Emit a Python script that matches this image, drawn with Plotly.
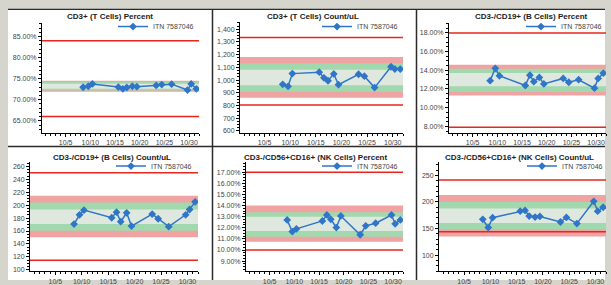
import plotly.graph_objects as go

W, H = 611, 285

dates = ["2013-10-08 13:00", "2013-10-09 14:00", "2013-10-10 10:00", "2013-10-15 16:00",
         "2013-10-16 14:00", "2013-10-17 09:00", "2013-10-18 12:00", "2013-10-19 10:00",
         "2013-10-23 08:00", "2013-10-24 11:00", "2013-10-26 11:00", "2013-10-29 16:00",
         "2013-10-30 10:00", "2013-10-31 11:00"]

titles = ["CD3+ (T Cells) Percent", "CD3+ (T Cells) Count/uL", "CD3-/CD19+ (B Cells) Percent",
          "CD3-/CD19+ (B Cells) Count/uL", "CD3-/CD56+CD16+ (NK Cells) Percent",
          "CD3-/CD56+CD16+ (NK Cells) Count/uL"]
series_name = "ITN 7587046"

t_pct = [72.97, 73.2, 73.75, 73.0, 72.6, 72.9, 73.2, 73.1, 73.4, 73.6, 73.7, 72.3, 73.75, 72.6]
t_cnt = [967, 951, 1051, 1062, 1018, 995, 1049, 964, 1046, 1031, 941, 1105, 1087, 1087]
b_pct = [12.89, 14.21, 13.41, 12.37, 13.48, 12.78, 13.24, 12.54, 13.13, 12.72, 12.99, 12.09, 13.13, 13.69]
b_cnt = [170.8, 185.1, 192.3, 180.5, 189.2, 174.4, 188.2, 167.7, 186.2, 179.0, 166.7, 185.1, 193.3, 205.1]
nk_pct = [12.7, 11.66, 11.9, 12.61, 13.15, 12.76, 12.02, 13.06, 11.37, 12.17, 12.41, 13.15, 12.35, 12.7]
nk_cnt = [167.3, 151.9, 170.4, 182.7, 184.0, 173.5, 171.6, 172.8, 162.3, 171.0, 159.3, 201.2, 182.7, 190.1]

# limits: [red low, red high], pink band, green band, centre band
red_lines = [[66.0, 84.0], [805, 1335], [7.9, 18.0], [115, 250], [10.0, 17.0], [143.8, 241.4]]
pink_band = [[71.9, 74.5], [862, 1182], [11.3, 14.6], [150.5, 214.6], [10.75, 14.0], [135, 213]]
green_band = [[72.2, 74.2], [908, 1133], [11.67, 14.17], [160.5, 204], [11.2, 13.4], [148, 200]]
centre_band = [[72.6, 73.8], [959, 1082], [12.3, 13.7], [170.8, 193.3], [11.7, 13.0], [160.5, 187.6]]

series = [t_pct, t_cnt, b_pct, b_cnt, nk_pct, nk_cnt]
y_ranges = [[62.2, 88.3], [587, 1460], [7.33, 19.1], [98, 266.5], [8.1, 17.9], [69.8, 275]]
y_dticks = [5, 100, 2, 20, 1, 50]
y_minor = [1, 25, 0.5, 5, 0.25, 10]
y_fmt = [".2f", ",", ".2f", "d", ".2f", "d"]
y_suffix = ["%", "", "%", "", "%", ""]
x_range = ["2013-09-30 05:00", "2013-11-01 00:00"]

# plot areas in pixels: x0, x1, ytop, ybottom
areas = [(42, 199, 23, 135), (240, 403, 22, 135), (449, 606, 23, 135),
         (30, 198, 165, 276), (246, 403, 165, 276), (439, 606, 165, 276)]
title_pos = [(110, 17), (313, 17), (531, 17), (112, 160), (315, 160), (519, 160)]
legend_pos = [(199, 27), (403, 27), (607, 27), (197, 169), (403, 169), (608, 169)]


def px(x):
    return x / W


def py(y):
    return 1 - y / H


fig = go.Figure()
shapes = []
annotations = []
layout = {}

# panel backgrounds and separators
shapes.append(dict(type="rect", xref="paper", yref="paper", x0=px(8), x1=px(605), y0=py(285), y1=py(9.5),
                   fillcolor="white", line=dict(width=0), layer="below"))
for xx in [212.5, 416.5]:
    shapes.append(dict(type="line", xref="paper", yref="paper", x0=px(xx), x1=px(xx), y0=0, y1=py(9.5),
                       line=dict(color="#2b2b2b", width=1.5), layer="below"))
shapes.append(dict(type="line", xref="paper", yref="paper", x0=px(8), x1=px(605), y0=py(149), y1=py(149),
                   line=dict(color="#2b2b2b", width=1.5), layer="below"))
shapes.append(dict(type="line", xref="paper", yref="paper", x0=px(8), x1=px(605), y0=py(9.5), y1=py(9.5),
                   line=dict(color="#2b2b2b", width=1.2), layer="below"))

for i in range(6):
    n = i + 1
    xa = "xaxis" if n == 1 else f"xaxis{n}"
    ya = "yaxis" if n == 1 else f"yaxis{n}"
    xr = "x" if n == 1 else f"x{n}"
    yr = "y" if n == 1 else f"y{n}"
    lg = "legend" if n == 1 else f"legend{n}"
    x0, x1, yt, yb = areas[i]
    layout[xa] = dict(domain=[px(x0), px(x1)], anchor=yr, type="date", range=x_range,
                      tick0="2013-10-05", dtick=5 * 86400000, tickformat="%-m/%-d",
                      showline=True, linecolor="black", linewidth=1, showgrid=False, zeroline=False,
                      ticks="outside", ticklen=3, tickcolor="black", tickwidth=1,
                      tickfont=dict(size=7, color="#444", family="Liberation Sans"),
                      minor=dict(dtick=86400000, ticks="outside", ticklen=2, tickcolor="black", showgrid=False))
    layout[ya] = dict(domain=[py(yb), py(yt)], anchor=xr, range=y_ranges[i], dtick=y_dticks[i],
                      tickformat=y_fmt[i], ticksuffix=y_suffix[i],
                      showline=True, linecolor="black", linewidth=1, showgrid=False, zeroline=False,
                      ticks="outside", ticklen=3, tickcolor="black", tickwidth=1,
                      tickfont=dict(size=7, color="#444", family="Liberation Sans"),
                      minor=dict(dtick=y_minor[i], ticks="outside", ticklen=2, tickcolor="black", showgrid=False))
    dref = f"{xr} domain"
    for band, col in [(pink_band[i], "#f0a3a3"), (green_band[i], "#a2d8ad"), (centre_band[i], "#dfe8de")]:
        shapes.append(dict(type="rect", xref=dref, yref=yr, x0=0, x1=1, y0=band[0], y1=band[1],
                           fillcolor=col, line=dict(width=0), layer="below"))
    for v in red_lines[i]:
        shapes.append(dict(type="line", xref=dref, yref=yr, x0=0, x1=1, y0=v, y1=v,
                           line=dict(color="#e8261e", width=1.5), layer="below"))
    fig.add_trace(go.Scatter(x=dates, y=series[i], mode="lines+markers", name=series_name,
                             xaxis=xr, yaxis=yr, legend=lg,
                             line=dict(color="#2f75c8", width=1.5),
                             marker=dict(symbol="diamond", size=6, color="#2f75c8")))
    tx, ty = title_pos[i]
    annotations.append(dict(text=f"<b>{titles[i]}</b>", xref="paper", yref="paper", x=px(tx), y=py(ty),
                            xanchor="center", yanchor="middle", showarrow=False,
                            font=dict(size=8, color="#222", family="Liberation Sans")))
    lx, ly = legend_pos[i]
    layout[lg] = dict(x=px(lx), y=py(ly), xanchor="right", yanchor="middle", bgcolor="rgba(0,0,0,0)",
                      borderwidth=0, itemwidth=30, font=dict(size=7, color="#444", family="Liberation Sans"))

fig.update_layout(width=W, height=H, margin=dict(l=0, r=0, t=0, b=0), paper_bgcolor="#d5d5cd",
                  plot_bgcolor="rgba(0,0,0,0)", showlegend=True, shapes=shapes, annotations=annotations,
                  **layout)
fig.write_html("out.html", config={"displayModeBar": False, "staticPlot": True},
               post_script="document.body.style.margin='0';document.body.style.overflow='hidden';")
